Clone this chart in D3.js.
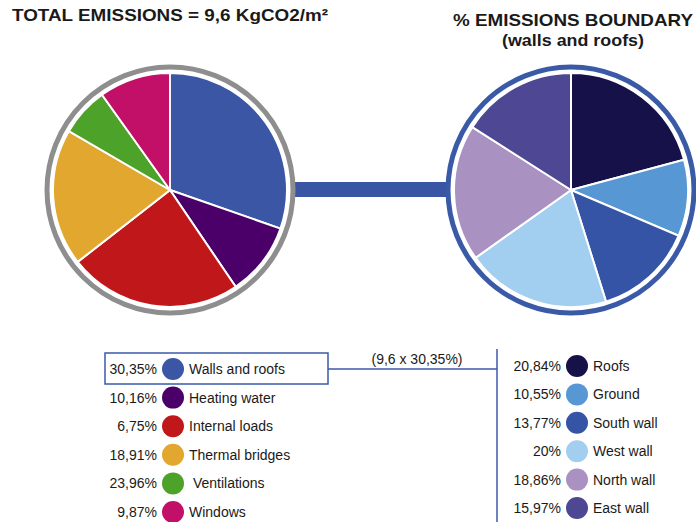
<!DOCTYPE html>
<html>
<head>
    <title>Emissions</title>
    <script src="https://d3js.org/d3.v7.min.js"></script>
    <style>
        body { margin: 0; background: #fff; }
        text { font-family: "Liberation Sans", Arial, sans-serif; fill: #1a1a1a; }
        .title { font-size: 17px; font-weight: bold; }
        .leg { font-size: 14px; }
    </style>
</head>
<body>
    <svg width="696" height="522"></svg>
    <script>
        // Left pie: total emissions by category (slice order as drawn)
        const totalLabels = ["Walls and roofs", "Heating water", "Internal loads", "Thermal bridges", " Ventilations", "Windows"];
        const totalLegendValues = ["30,35%", "10,16%", "6,75%", "18,91%", "23,96%", "9,87%"];
        const totalSliceValues = [30.35, 10.16, 23.96, 18.91, 6.75, 9.87];
        const totalColors = ["#3a56a5", "#4a0068", "#c0171b", "#e1a72e", "#4da229", "#c20f68"];

        // Right pie: boundary split
        const boundLabels = ["Roofs", "Ground", "South wall", "West wall", "North wall", "East wall"];
        const boundLegendValues = ["20,84%", "10,55%", "13,77%", "20%", "18,86%", "15,97%"];
        const boundValues = [20.84, 10.55, 13.77, 20, 18.86, 15.97];
        const boundColors = ["#161149", "#5797d4", "#3654a6", "#a2cfef", "#a991c2", "#4e4894"];

        const svg = d3.select("svg");
        const pie = d3.pie().sort(null).value(d => d);
        const arc = d3.arc().innerRadius(0).outerRadius(117);

        const left = {x: 170, y: 190}, right = {x: 571, y: 190};

        // connector bar between pies
        svg.append("rect")
            .attr("x", left.x + 110).attr("y", 182)
            .attr("width", right.x - left.x - 220).attr("height", 15)
            .attr("fill", "#3a55a4");

        function drawPie(c, values, colors, ring) {
            const g = svg.append("g").attr("transform", "translate(" + c.x + "," + c.y + ")");
            g.append("circle").attr("r", 123).attr("fill", "#fff")
                .attr("stroke", ring).attr("stroke-width", 5);
            g.selectAll("path")
                .data(pie(values))
                .enter().append("path")
                .attr("d", arc)
                .attr("fill", (d, i) => colors[i])
                .attr("stroke", "#fff")
                .attr("stroke-width", 2);
        }
        drawPie(left, totalSliceValues, totalColors, "#8e8e8e");
        drawPie(right, boundValues, boundColors, "#3a5aa8");

        // titles (stretched a little to match the original wide face)
        svg.append("text").attr("class", "title").attr("x", 12).attr("y", 21)
            .attr("textLength", 316).attr("lengthAdjust", "spacingAndGlyphs")
            .text("TOTAL EMISSIONS = 9,6 KgCO2/m²");
        svg.append("text").attr("class", "title").attr("x", 453).attr("y", 26)
            .attr("textLength", 240).attr("lengthAdjust", "spacingAndGlyphs")
            .text("% EMISSIONS BOUNDARY");
        svg.append("text").attr("class", "title").attr("x", 502).attr("y", 46)
            .attr("textLength", 142).attr("lengthAdjust", "spacingAndGlyphs")
            .text("(walls and roofs)");

        // link from highlighted row to right legend
        svg.append("rect").attr("x", 105).attr("y", 353).attr("width", 223).attr("height", 31)
            .attr("fill", "none").attr("stroke", "#3a5aa8").attr("stroke-width", 1.5);
        svg.append("line").attr("x1", 328).attr("x2", 497).attr("y1", 369).attr("y2", 369)
            .attr("stroke", "#3a5aa8").attr("stroke-width", 1.5);
        svg.append("line").attr("x1", 497).attr("x2", 497).attr("y1", 349).attr("y2", 522)
            .attr("stroke", "#3a5aa8").attr("stroke-width", 1.5);
        svg.append("text").attr("class", "leg").attr("x", 417).attr("y", 364)
            .attr("text-anchor", "middle").text("(9,6 x 30,35%)");

        function drawLegend(labels, vals, colors, y0, step, cx) {
            const g = svg.selectAll(null).data(labels).enter().append("g")
                .attr("transform", (d, i) => "translate(0," + (y0 + i * step) + ")");
            g.append("text").attr("class", "leg").attr("x", cx - 16).attr("dy", "0.35em")
                .attr("text-anchor", "end").text((d, i) => vals[i]);
            g.append("circle").attr("cx", cx).attr("r", 11).attr("fill", (d, i) => colors[i]);
            g.append("text").attr("class", "leg").attr("x", cx + 16).attr("dy", "0.35em")
                .style("white-space", "pre").text(d => d);
        }
        drawLegend(totalLabels, totalLegendValues, totalColors, 369, 28.6, 173);
        drawLegend(boundLabels, boundLegendValues, boundColors, 366, 28.4, 577);
    </script>
</body>
</html>
